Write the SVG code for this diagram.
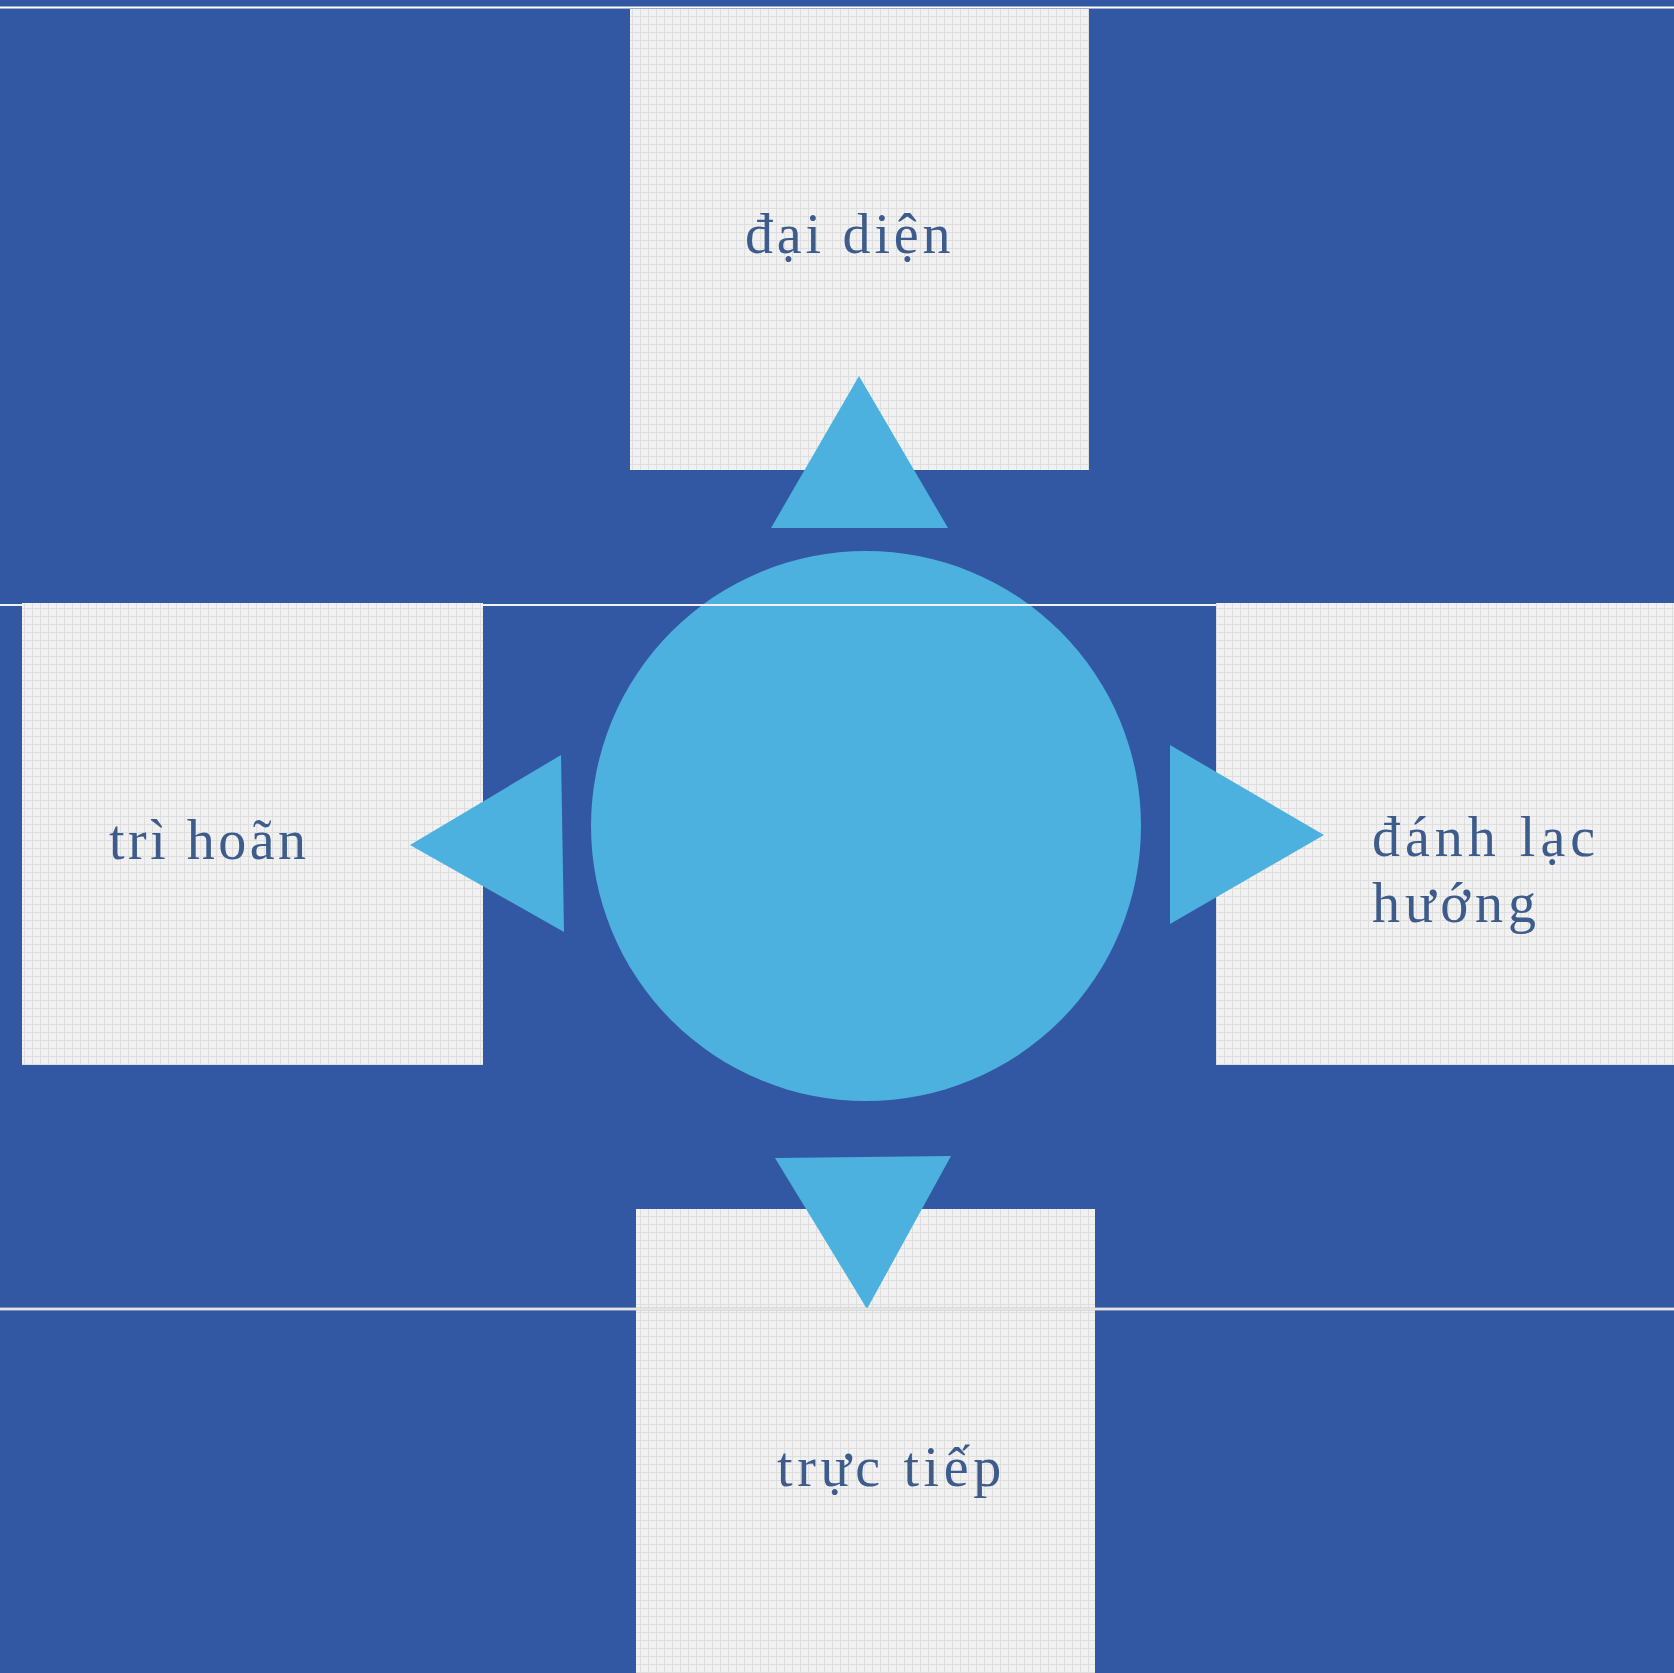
<svg xmlns="http://www.w3.org/2000/svg" width="1674" height="1673" viewBox="0 0 1674 1673">
  <defs>
    <pattern id="grid" width="8" height="8" patternUnits="userSpaceOnUse">
      <rect width="8" height="8" fill="#f1f1f1"/>
      <path d="M0 0.5H8M0.5 0V8" stroke="#dedede" stroke-width="1"/>
    </pattern>
    <style>
      .box { fill: url(#grid); }
      .tri { fill: #4cb1de; }
      .lbl { font-family: "Liberation Serif", "Times New Roman", serif; font-size: 56px; fill: #3d5c8c; letter-spacing: 5px; }
    </style>
  </defs>
  <rect x="0" y="0" width="1674" height="1673" fill="#3358a3"/>
  <g id="lines">
    <line x1="0" y1="7.5" x2="1674" y2="7.5" stroke="#ffffff" stroke-width="2"/>
  </g>
  <g id="node-center">
    <circle cx="866" cy="826" r="275" fill="#4cb1de"/>
  </g>
  <line x1="0" y1="605" x2="1216" y2="605" stroke="#f2f2f2" stroke-width="1.8"/>
  <g id="node-top">
    <rect class="box" x="630" y="9" width="459" height="461"/>
    <text class="lbl" x="745" y="253" style="letter-spacing:3.8px">đại diện</text>
  </g>
  <g id="node-left">
    <rect class="box" x="22" y="603" width="461" height="462"/>
    <text class="lbl" x="109" y="859" style="letter-spacing:3.5px">trì hoãn</text>
  </g>
  <g id="node-right">
    <rect class="box" x="1216" y="603" width="458" height="462"/>
    <text class="lbl" x="1372" y="856">đánh lạc</text>
    <text class="lbl" x="1372" y="922">hướng</text>
  </g>
  <g id="node-bottom">
    <rect class="box" x="636" y="1209" width="459" height="464"/>
    <text class="lbl" x="777" y="1486" style="letter-spacing:4.6px">trực tiếp</text>
  </g>
  <g id="connectors">
    <polygon class="tri" points="859,376 771,528 948,528"/>
    <polygon class="tri" points="410,845 561,755 564,932"/>
    <polygon class="tri" points="1324,835 1170,745 1170,924"/>
    <polygon class="tri" points="867,1309 775,1158 951,1156"/>
  </g>
  <g id="bottom-line">
    <line x1="0" y1="1309" x2="1674" y2="1309" stroke="#c8c8c8" stroke-width="3"/>
    <line x1="0" y1="1309" x2="1674" y2="1309" stroke="#ffffff" stroke-width="1.2"/>
  </g>
</svg>
